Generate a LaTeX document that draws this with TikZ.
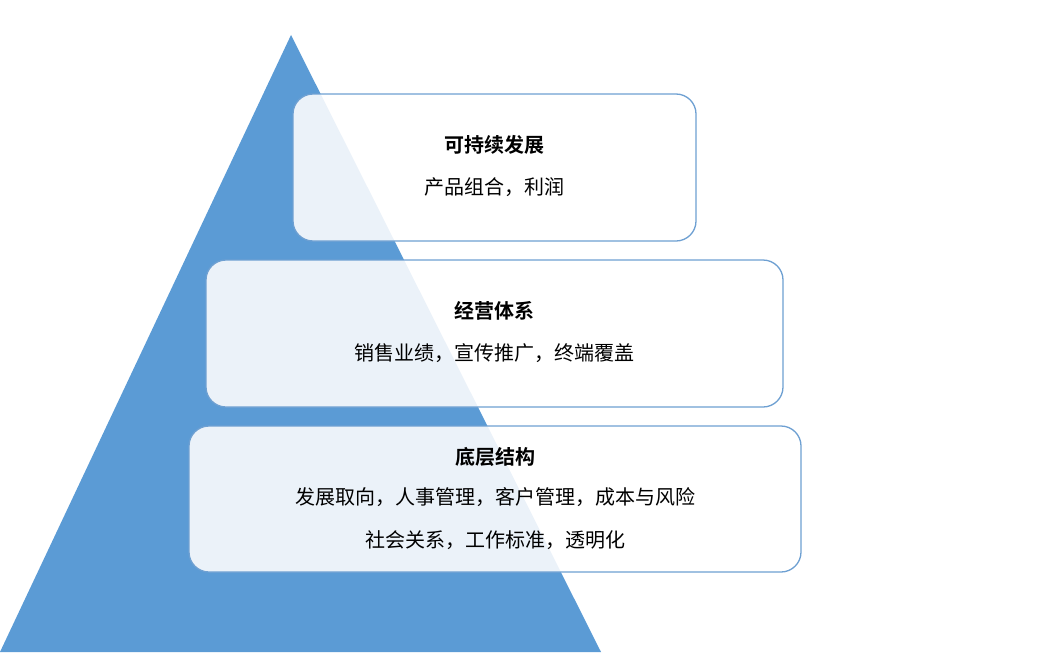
\documentclass[tikz,border=0pt]{standalone}
\usepackage{fontspec}
\setmainfont{Noto Sans CJK SC}[BoldFont={Noto Sans CJK SC Bold}]
\definecolor{tri}{RGB}{91,155,213}
\definecolor{edge}{RGB}{110,160,210}
\begin{document}
\begin{tikzpicture}[x=1pt,y=-1pt,
  tier/.style={draw=edge,line width=1.3pt,rounded corners=20pt,fill=white,fill opacity=0.88},
  ttl/.style={font=\fontsize{20}{24}\selectfont\bfseries,text=black},
  txt/.style={font=\fontsize{20}{24}\selectfont,text=black}]
\useasboundingbox (0,0) rectangle (1056,669);
\fill[tri] (291,35) coordinate (apex) -- (601,652) -- (0,652) -- cycle;
\draw[tier] (293,94) rectangle (696,241);
\draw[tier] (206,260) rectangle (783,407);
\draw[tier] (189,426) rectangle (801,572);
\node[ttl] (t1) at (494,145) {可持续发展};
\node[txt] (l1) at (494,187) {产品组合，利润};
\node[ttl] (t2) at (494,311) {经营体系};
\node[txt] (l2) at (494,353) {销售业绩，宣传推广，终端覆盖};
\node[ttl] (t3) at (495,457) {底层结构};
\node[txt] (l3) at (495,497) {发展取向，人事管理，客户管理，成本与风险};
\node[txt] (l4) at (495,540) {社会关系，工作标准，透明化};
\end{tikzpicture}
\end{document}
